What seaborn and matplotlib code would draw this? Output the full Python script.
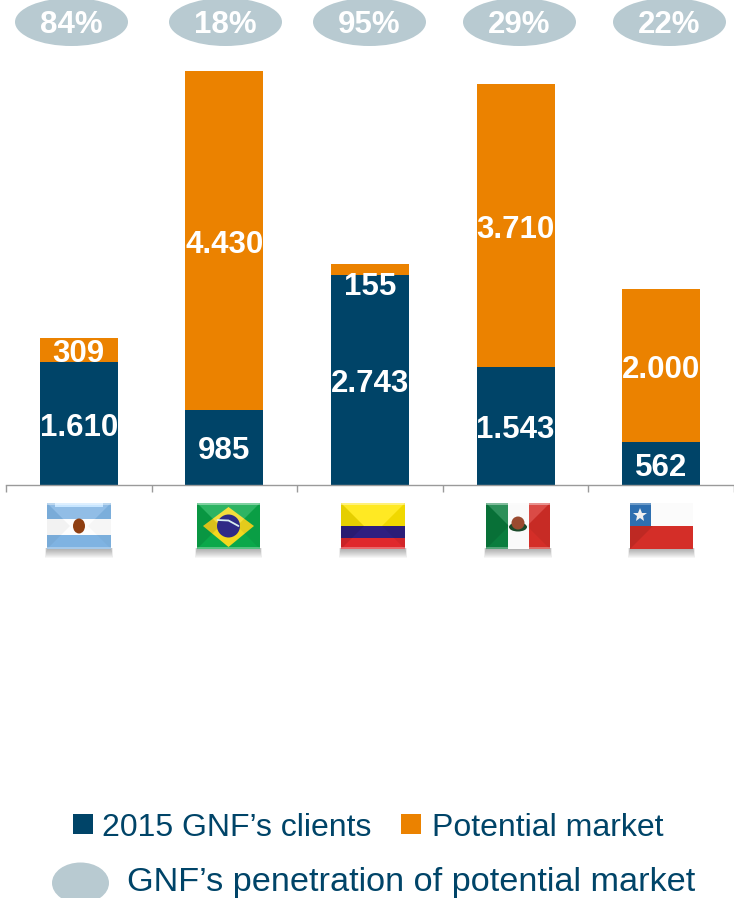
import numpy as np
import pandas as pd
import seaborn as sns
import matplotlib
matplotlib.use("Agg")
import matplotlib.pyplot as plt
from matplotlib.patches import Ellipse, Polygon, Rectangle, Circle

# Client figures by country (thousands)
countries = ["Argentina", "Brazil", "Colombia", "Mexico", "Chile"]
clients = [1610, 985, 2743, 1543, 562]
potential = [309, 4430, 155, 3710, 2000]
penetration = ["84%", "18%", "95%", "29%", "22%"]
series_names = ["2015 GNF\u2019s clients", "Potential market"]
pill_legend = "GNF\u2019s penetration of potential market"

NAVY = "#004468"
ORANGE = "#EB8200"
PILL = "#B8CAD1"
AXIS_GREY = "#9A9A9A"
W, H = 734, 898
BASE_Y = 485
PX_PER_UNIT = 0.0764

sns.set_theme(style="white")
plt.rcParams["font.family"] = ["Liberation Sans", "DejaVu Sans"]

fig = plt.figure(figsize=(W / 100, H / 100), dpi=100, facecolor="white")
ax = fig.add_axes([6 / W, 1 - BASE_Y / H, (W - 6) / W, BASE_Y / H])

df = pd.DataFrame({"country": countries, "clients": clients, "potential": potential})
df["total"] = df["clients"] + df["potential"]

# Stacked columns: the totals first, then the client share over them
sns.barplot(data=df, x="country", y="total", color=ORANGE, saturation=1, width=0.535,
            linewidth=0, ax=ax)
sns.barplot(data=df, x="country", y="clients", color=NAVY, saturation=1, width=0.535,
            linewidth=0, ax=ax)

ax.set_xlim(-0.5, 4.5)
ax.set_ylim(0, BASE_Y / PX_PER_UNIT)
ax.set_xlabel("")
ax.set_ylabel("")
ax.set_yticks([])
ax.set_xticks(np.arange(-0.5, 4.6, 1))
ax.set_xticklabels([])
ax.tick_params(axis="x", length=5, width=1, color=AXIS_GREY, bottom=True)
for side in ("top", "left", "right"):
    ax.spines[side].set_visible(False)
ax.spines["bottom"].set_color(AXIS_GREY)
ax.spines["bottom"].set_linewidth(1)
ax.patch.set_alpha(0)


def thousands(v):
    return f"{v:,}".replace(",", ".")


label_style = dict(ha="center", va="center", color="white", fontsize=22.5,
                   fontweight="bold", zorder=5, annotation_clip=False,
                   textcoords="offset points")
for i, (c, p) in enumerate(zip(clients, potential)):
    ax.annotate(thousands(c), (i, c / 2), xytext=(0, -2.9), **label_style)
    # A segment too thin for its label has it placed just under the stack
    drop = -11 if p < 200 else -1.4
    ax.annotate(thousands(p), (i, c + p / 2), xytext=(0, drop - 1.6), **label_style)

# Overlay in pixel units for the pills, flags and legend
ov = fig.add_axes([0, 0, 1, 1], zorder=3)
ov.set_xlim(0, W)
ov.set_ylim(H, 0)
ov.axis("off")
ov.patch.set_alpha(0)

for cx, txt in zip([71.5, 225.5, 369.5, 519.5, 669.5], penetration):
    ov.add_patch(Ellipse((cx, 22), 113, 48, fc=PILL, ec="none"))
    ov.text(cx, 25, txt, ha="center", va="center", color="white",
            fontsize=22.5, fontweight="bold")


def bevel(x0, y0, w, h, side_shade=1.0):
    """Glassy edge shading around a flag."""
    x1, y1 = x0 + w, y0 + h
    d = h * 0.5
    cx0, cx1, cy = x0 + d, x1 - d, y0 + d
    ov.add_patch(Polygon([(x0, y0), (x1, y0), (cx1, cy), (cx0, cy)],
                         fc="white", ec="none", alpha=0.14, zorder=4))
    ov.add_patch(Polygon([(x0, y0), (cx0, cy), (x0, y1)],
                         fc="black", ec="none", alpha=0.10 * side_shade, zorder=4))
    ov.add_patch(Polygon([(x1, y0), (cx1, cy), (x1, y1)],
                         fc="black", ec="none", alpha=0.06 * side_shade, zorder=4))
    ov.add_patch(Rectangle((x0, y0), w, 1.6, fc="white", ec="none", alpha=0.4, zorder=4))
    ov.add_patch(Rectangle((x0, y1 - 1.6), w, 1.6, fc="white", ec="none", alpha=0.3, zorder=4))


def shadow(x0, y0, w, h):
    """Soft drop shadow that fades out below the flag."""
    for step in range(9):
        reach = 1 + step
        ov.add_patch(Rectangle((x0 - reach * 0.2, y0 + h - 1), w + reach * 0.4, 1 + reach,
                               fc="black", ec="none", alpha=0.035, zorder=1))


def band(x, y, w, h, color):
    ov.add_patch(Rectangle((x, y), w, h, fc=color, ec="none", zorder=2))


# Argentina
x, y, w, h = 47, 503, 64, 46
shadow(x, y, w, h)
band(x, y, w, 16, "#7FB3E2")
band(x, y + 16, w, 16, "#FDFDFD")
band(x, y + 32, w, 14, "#7FB3E2")
ov.add_patch(Rectangle((x + 8, y), w - 16, 4, fc="#BFE3FF", ec="none", zorder=2))
ov.add_patch(Ellipse((x + w / 2, y + h / 2), 12, 15, fc="#8F3F12", ec="none", zorder=5))
bevel(x, y, w, h, side_shade=0.45)

# Brazil
x, y, w, h = 197, 503, 63, 46
shadow(x, y, w, h)
band(x, y, w, h, "#0BA84A")
ov.add_patch(Polygon([(x + 6, y + h / 2), (x + w / 2, y + 4), (x + w - 6, y + h / 2), (x + w / 2, y + h - 2)],
                     fc="#F3D81E", ec="none", zorder=2))
ov.add_patch(Circle((x + w / 2, y + h / 2), 11.5, fc="#2F2A86", ec="none", zorder=5))
ov.plot([x + w / 2 - 11, x + w / 2, x + w / 2 + 10], [y + 17, y + 17.5, y + 23],
        color="#D9EEF0", lw=1.3, zorder=5)
bevel(x, y, w, h)

# Colombia
x, y, w, h = 341, 503, 64, 46
shadow(x, y, w, h)
band(x, y, w, 23, "#FFE600")
band(x, y + 23, w, 12, "#2E1F80")
band(x, y + 35, w, 11, "#E0282C")
bevel(x, y, w, h)

# Mexico
x, y, w, h = 486, 503, 64, 46
shadow(x, y, w, h)
band(x, y, 21.5, h, "#0A7D3E")
band(x + 21.5, y, 21, h, "#FAFAFA")
band(x + 42.5, y, 21.5, h, "#D42E28")
ov.add_patch(Ellipse((x + w / 2, y + 24), 18, 9, fc="#1B4A2A", ec="none", zorder=5))
ov.add_patch(Circle((x + w / 2, y + 20), 6.5, fc="#9A4A30", ec="none", zorder=5))
bevel(x, y, w, h)

# Chile
x, y, w, h = 630, 503, 63, 46
shadow(x, y, w, h)
band(x, y, w, 23, "#FBFBFB")
band(x, y + 23, w, 23, "#D42E28")
band(x, y, 20.5, 23, "#2E6FB0")
ov.plot([x + 10], [y + 11.5], marker="*", ms=10, color="#F0F0F0", mew=0, zorder=5)
ov.add_patch(Polygon([(x, y + 23), (x + 23, y + 23), (x, y + 46)], fc="black", ec="none",
                     alpha=0.1, zorder=4))
ov.add_patch(Rectangle((x, y), 20.5, 1.5, fc="white", ec="none", alpha=0.3, zorder=4))

# Legend rows
ov.add_patch(Rectangle((72.5, 814), 20, 20, fc=NAVY, ec="none"))
ov.text(102, 828, series_names[0], ha="left", va="center", color=NAVY, fontsize=23)
ov.add_patch(Rectangle((401, 814), 20, 20, fc=ORANGE, ec="none"))
ov.text(432, 828, series_names[1], ha="left", va="center", color=NAVY, fontsize=23)
ov.add_patch(Ellipse((80.5, 883), 57, 41, fc=PILL, ec="none"))
ov.text(127, 883, pill_legend, ha="left", va="center", color=NAVY, fontsize=24.7)

fig.savefig("out.png", dpi=100, facecolor="white")
